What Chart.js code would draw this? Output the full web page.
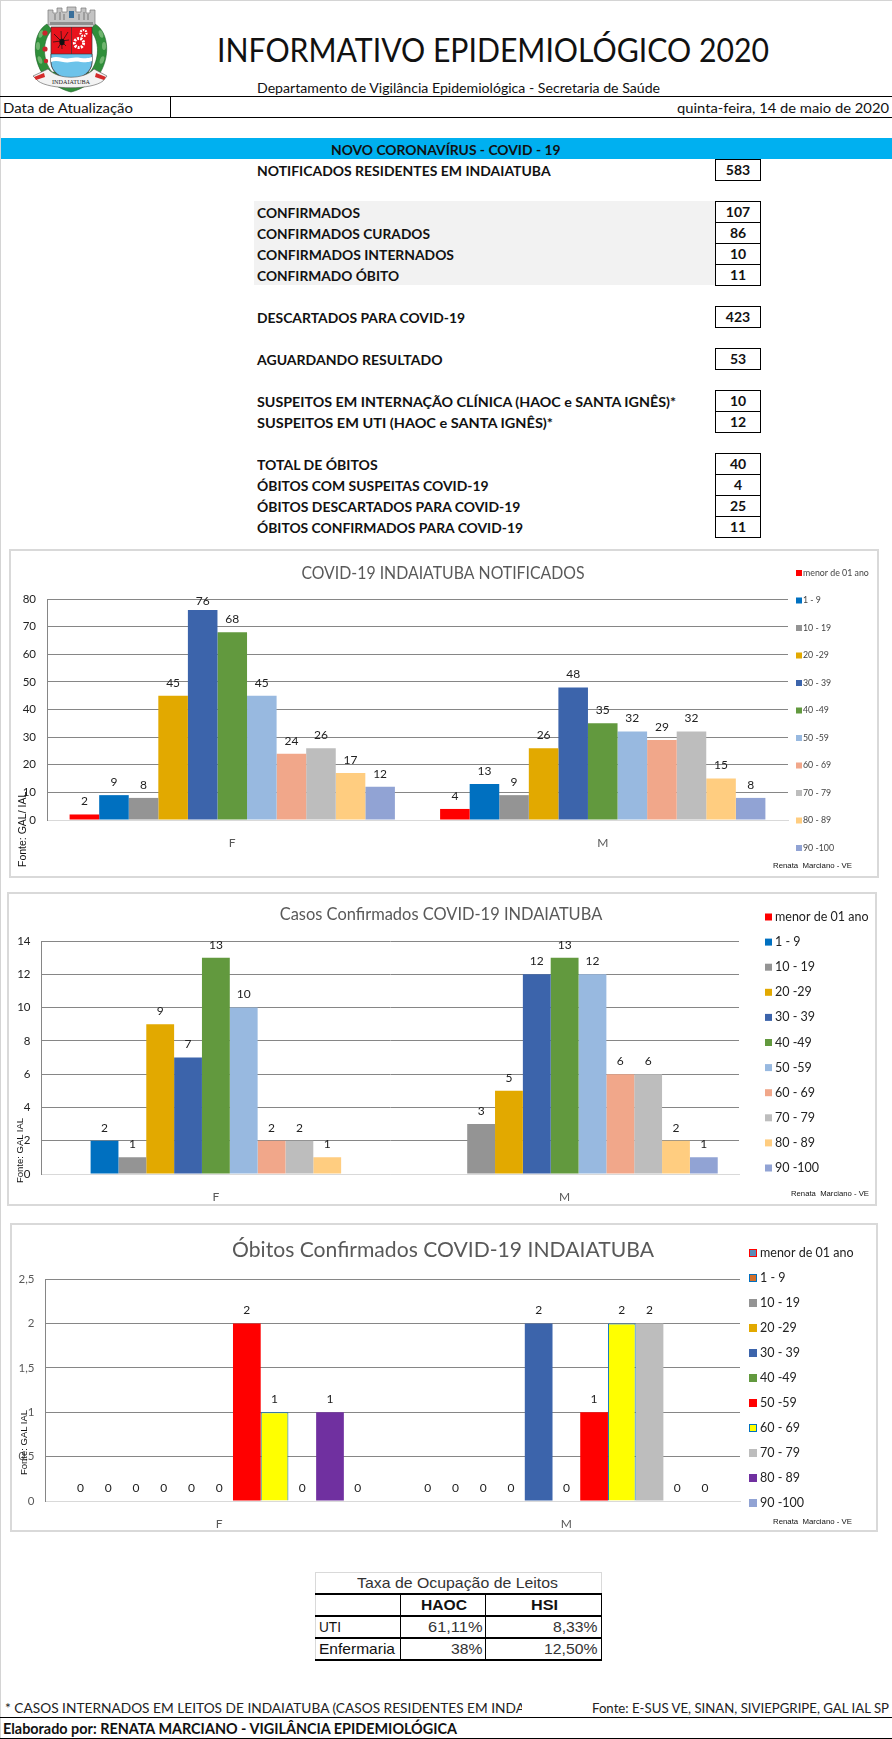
<!DOCTYPE html>
<html lang="pt-BR">
<head>
<meta charset="utf-8">
<title>Informativo Epidemiológico 2020</title>
<script src="https://cdn.jsdelivr.net/npm/chart.js@4"></script>
<style>
html, body { margin: 0; padding: 0; background: #fff; }
#pagina { position: relative; width: 892px; height: 1739px; overflow: hidden; background: #fff; font-family: Lato, "Noto Sans", sans-serif; color: #111; }
.t { position: absolute; white-space: pre; transform-origin: left center; line-height: 20px; height: 20px; }
.b { font-weight: 700; }
.caixa { position: absolute; box-sizing: border-box; }
.valor { position: absolute; left: 715px; width: 46px; height: 22px; box-sizing: border-box; border: 1px solid #000; text-align: center; font-weight: 700; font-size: 14px; line-height: 20px; }
.quadro { position: absolute; box-sizing: border-box; border: 2px solid #d9d9d9; }
.quadro canvas { position: absolute; left: -2px; top: -2px; }
.arial { font-family: "Liberation Sans", Arial, sans-serif; }
.fonte { position: absolute; white-space: nowrap; font-family: "Liberation Sans", Arial, sans-serif; color: #111; transform: rotate(-90deg); transform-origin: left top; }
</style>
</head>
<body>
<div id="pagina">
  <svg style="position:absolute;left:0;top:0" width="130" height="96" viewBox="0 0 130 96">
    <path d="M47 24 C33 32 31 58 44 76 C52 84 62 90 71 92 C80 90 90 84 98 76 C111 58 109 32 95 24 L90 30 C100 40 100 60 90 72 L52 72 C42 60 42 40 52 30 Z" fill="#2f8f3a" stroke="#1d5e27" stroke-width=".6"/>
    <g fill="#6fb56f">
      <ellipse cx="41" cy="34" rx="2" ry="4" transform="rotate(20 41 34)"/>
      <ellipse cx="38" cy="46" rx="2" ry="4"/>
      <ellipse cx="40" cy="60" rx="2" ry="4" transform="rotate(-20 40 60)"/>
      <ellipse cx="101" cy="34" rx="2" ry="4" transform="rotate(-20 101 34)"/>
      <ellipse cx="104" cy="46" rx="2" ry="4"/>
      <ellipse cx="102" cy="60" rx="2" ry="4" transform="rotate(20 102 60)"/>
    </g>
    <g fill="#c9252c"><circle cx="45" cy="33" r="2.6"/><circle cx="45" cy="49" r="2.6"/><circle cx="46" cy="61" r="2.2"/></g>
    <path d="M48 25 L48 10 L53 10 L53 13 L57 13 L57 8 L62 8 L62 12 L67 12 L67 7 L76 7 L76 12 L81 12 L81 8 L86 8 L86 13 L90 13 L90 10 L95 10 L95 25 Z" fill="#c4c4c4" stroke="#7a7a7a" stroke-width=".7"/>
    <rect x="69" y="11" width="5" height="7" fill="#3a6f9a"/>
    <path d="M55 14 V20 M60 12 V20 M64 14 V20 M79 14 V20 M84 12 V20 M88 14 V20" stroke="#777" stroke-width="1"/>
    <rect x="50" y="22" width="43" height="3" fill="#8e8e8e"/>
    <path d="M51 27 L92 27 L92 62 C92 72 82 78 71.5 80 C61 78 51 72 51 62 Z" fill="#e8121c" stroke="#333" stroke-width=".7"/>
    <line x1="71.5" y1="27" x2="71.5" y2="54" stroke="#333" stroke-width=".6"/>
    <path d="M51 54 L92 54 L92 62 C92 72 82 78 71.5 80 C61 78 51 72 51 62 Z" fill="#6cc3ea" stroke="#333" stroke-width=".6"/>
    <path d="M51 58 C58 55 64 60 71 58 C78 56 85 60 92 57 L92 61 C85 64 78 60 71 62 C64 64 58 59 51 62 Z" fill="#fff"/>
    <g stroke="#111" stroke-width=".7" fill="none"><path d="M54 34 L66 46 M68 32 L58 48 M53 42 L69 40 M61 31 L62 49"/></g>
    <ellipse cx="62" cy="42" rx="2.6" ry="3.2" fill="#111"/>
    <circle cx="79" cy="43" r="4.6" fill="none" stroke="#fff" stroke-width="3" stroke-dasharray="2 1.2"/>
    <circle cx="83.5" cy="33" r="3" fill="none" stroke="#fff" stroke-width="2.2" stroke-dasharray="1.6 1"/>
    <path d="M33 76 L48 69 C58 80 84 80 94 69 L107 76 L103 81 C92 90 50 90 38 81 Z" fill="#f3f3f3" stroke="#555" stroke-width=".6"/>
    <path d="M34 77 L44 73 L45 77 L36 80 Z M106 77 L96 73 L95 77 L104 80 Z" fill="#d42a2a"/>
    <text x="71" y="84" text-anchor="middle" font-family="Liberation Serif" font-size="7" fill="#222" textLength="38" lengthAdjust="spacingAndGlyphs">INDAIATUBA</text>
  </svg>

  <div class="caixa" style="left:0;top:0;width:892px;height:1px;background:#d4d4d4"></div>
  <div class="caixa" style="left:0;top:0;width:1px;height:1739px;background:#d4d4d4"></div>
  <div class="caixa" style="left:0;top:96px;width:892px;height:1px;background:#000"></div>
  <div class="caixa" style="left:0;top:117px;width:892px;height:1px;background:#000"></div>
  <div class="caixa" style="left:170px;top:96px;width:1px;height:21px;background:#000"></div>
  <div class="caixa" style="left:1px;top:138px;width:891px;height:21px;background:#00b0f0"></div>
  <div class="caixa" style="left:254px;top:201px;width:461px;height:84px;background:#f2f2f2"></div>

  <div class="quadro" style="left:9px;top:549px;width:870px;height:329px"><canvas id="graficoNotificados"></canvas></div>
  <div class="quadro" style="left:7px;top:892px;width:870px;height:314px"><canvas id="graficoConfirmados"></canvas></div>
  <div class="quadro" style="left:10px;top:1223px;width:868px;height:309px"><canvas id="graficoObitos"></canvas></div>

  <div class="fonte" style="left:16px;top:867px;font-size:10.5px">Fonte: GAL/ IAL</div>
  <div class="fonte" style="left:14px;top:1183px;font-size:9.5px">Fonte: GAL IAL</div>
  <div class="fonte" style="left:18px;top:1475px;font-size:9.5px">Fonte: GAL IAL</div>

  <div class="caixa" style="left:315px;top:1572px;width:287px;height:88px;border:1px solid #d9d9d9"></div>
  <div class="caixa" style="left:315px;top:1593px;width:287px;height:2px;background:#000"></div>
  <div class="caixa" style="left:315px;top:1615px;width:287px;height:2px;background:#000"></div>
  <div class="caixa" style="left:315px;top:1637px;width:287px;height:2px;background:#000"></div>
  <div class="caixa" style="left:315px;top:1659px;width:287px;height:2px;background:#000"></div>
  <div class="caixa" style="left:400px;top:1593px;width:1px;height:68px;background:#000"></div>
  <div class="caixa" style="left:485px;top:1593px;width:1px;height:68px;background:#000"></div>
  <div class="caixa" style="left:601px;top:1593px;width:1px;height:68px;background:#000"></div>

  <div class="caixa" style="left:0;top:1717px;width:892px;height:1px;background:#000"></div>
  <div class="caixa" style="left:0;top:1738px;width:892px;height:1px;background:#000"></div>
  <div id="textos"></div>
</div>

<script>
const categorias = ['F', 'M'];
const faixas = ['menor de 01 ano', '1 - 9', '10 - 19', '20 -29', '30 - 39', '40 -49', '50 -59', '60 - 69', '70 - 79', '80 - 89', '90 -100'];

const notificadosF = [2, 9, 8, 45, 76, 68, 45, 24, 26, 17, 12];
const notificadosM = [4, 13, 9, 26, 48, 35, 32, 29, 32, 15, 8];

const confirmadosF = [null, 2, 1, 9, 7, 13, 10, 2, 2, 1, null];
const confirmadosM = [null, null, 3, 5, 12, 13, 12, 6, 6, 2, 1];

const obitosF = [0, 0, 0, 0, 0, 0, 2, 1, 0, 1, 0];
const obitosM = [0, 0, 0, 0, 2, 0, 1, 2, 2, 0, 0];

const coresPadrao = ['#ff0000', '#0070c0', '#949494', '#e2a900', '#3c64ab', '#62993e', '#98b9e0', '#f1a78a', '#bdbdbd', '#ffcd80', '#91a3d4'];
const coresObitos = ['#5b8db8', '#d2702c', '#949494', '#e2a900', '#3c64ab', '#62993e', '#ff0000', '#ffff00', '#bdbdbd', '#7030a0', '#91a3d4'];
const bordasObitos = ['#ff0000', '#0070c0', null, null, null, null, null, '#0070c0', null, null, null];

const resumo = [
    ['NOTIFICADOS RESIDENTES EM INDAIATUBA', '583'],
    ['CONFIRMADOS', '107'],
    ['CONFIRMADOS CURADOS', '86'],
    ['CONFIRMADOS INTERNADOS', '10'],
    ['CONFIRMADO ÓBITO', '11'],
    ['DESCARTADOS PARA COVID-19', '423'],
    ['AGUARDANDO RESULTADO', '53'],
    ['SUSPEITOS EM INTERNAÇÃO CLÍNICA (HAOC e SANTA IGNÊS)*', '10'],
    ['SUSPEITOS EM UTI (HAOC e SANTA IGNÊS)*', '12'],
    ['TOTAL DE ÓBITOS', '40'],
    ['ÓBITOS COM SUSPEITAS COVID-19', '4'],
    ['ÓBITOS DESCARTADOS PARA COVID-19', '25'],
    ['ÓBITOS CONFIRMADOS PARA COVID-19', '11']
];
// centro vertical e largura de cada linha do resumo
const resumoY = [170.5, 212.5, 233.5, 254.5, 275.5, 317.5, 359.5, 401.5, 422.5, 464.5, 485.5, 506.5, 527.5];
const resumoLarg = [293.6, 103, 173, 197, 142, 208, 185.5, 419, 296, 120.6, 231.6, 263.4, 266];

// ===== Textos da pagina =====
const textos = document.getElementById('textos');

function texto(str, x, yc, larg, tam, opts = {}) {
    const el = document.createElement('div');
    el.className = 't' + (opts.bold ? ' b' : '') + (opts.arial ? ' arial' : '');
    el.textContent = str;
    el.style.fontSize = tam + 'px';
    el.style.left = x + 'px';
    el.style.top = (yc - 10) + 'px';
    if (opts.cor) el.style.color = opts.cor;
    (opts.pai || textos).appendChild(el);
    if (larg) el.style.transform = `scaleX(${larg / el.getBoundingClientRect().width})`;
    return el;
}

function desenharTextos() {
    texto('INFORMATIVO EPIDEMIOLÓGICO 2020', 217.4, 50, 552, 32);
    texto('Departamento de Vigilância Epidemiológica - Secretaria de Saúde', 257, 88, 403, 13.5);
    texto('Data de Atualização', 3.4, 108, 130, 14);
    texto('quinta-feira, 14 de maio de 2020', 677, 108, 212, 14);
    texto('NOVO CORONAVÍRUS - COVID - 19', 331, 150, 229.5, 14, { bold: true });

    resumo.forEach(([rotulo, valor], i) => {
        texto(rotulo, 257, resumoY[i], resumoLarg[i], 14, { bold: true });
        const cel = document.createElement('div');
        cel.className = 'valor';
        cel.textContent = valor;
        cel.style.top = (resumoY[i] - 11.5) + 'px';
        textos.appendChild(cel);
    });

    texto('Renata  Marciano - VE', 773, 866, 79, 8, { arial: true });
    texto('Renata  Marciano - VE', 791, 1194, 78, 8, { arial: true });
    texto('Renata  Marciano - VE', 773, 1522, 79, 8, { arial: true });

    texto('Taxa de Ocupação de Leitos', 357, 1583, 201, 15, { arial: true, cor: '#333' });
    texto('HAOC', 421, 1605, 46, 14.5, { arial: true, bold: true });
    texto('HSI', 531, 1605, 27, 14.5, { arial: true, bold: true });
    texto('UTI', 319, 1627, 22, 14.5, { arial: true });
    texto('61,11%', 428, 1627, 54.5, 14.5, { arial: true, cor: '#333' });
    texto('8,33%', 553, 1627, 44.5, 14.5, { arial: true, cor: '#333' });
    texto('Enfermaria', 319, 1649, 76, 14.5, { arial: true });
    texto('38%', 451, 1649, 31.5, 14.5, { arial: true, cor: '#333' });
    texto('12,50%', 544, 1649, 53.5, 14.5, { arial: true, cor: '#333' });

    const recorte = document.createElement('div');
    recorte.style.cssText = 'position:absolute;left:0;top:1698px;width:522px;height:20px;overflow:hidden';
    textos.appendChild(recorte);
    texto('* CASOS INTERNADOS EM LEITOS DE INDAIATUBA (CASOS RESIDENTES EM INDA', 4.5, 10, 520, 14, { pai: recorte, cor: '#222' });
    texto('Fonte: E-SUS VE, SINAN, SIVIEPGRIPE, GAL IAL SP', 592, 1708, 297, 14, { cor: '#222' });
    texto('Elaborado por: RENATA MARCIANO - VIGILÂNCIA EPIDEMIOLÓGICA', 3.4, 1729, 454, 14.5, { bold: true });
}

// ===== Plugins dos graficos =====
// o titulo fica centrado no quadro todo e mais estreito, como no original
const tituloEstreito = {
    id: 'tituloEstreito',
    afterLayout(chart, args, op) {
        const tb = chart.titleBlock;
        tb.left = op.centro - 400;
        tb.right = op.centro + 400;
        if (tb.desenhoOriginal) return;
        tb.desenhoOriginal = tb.draw;
        tb.draw = function () {
            const ctx = chart.ctx;
            ctx.save();
            ctx.translate(op.centro, 0);
            ctx.scale(op.escala, 1);
            ctx.translate(-op.centro, 0);
            tb.desenhoOriginal();
            ctx.restore();
        };
    }
};

const rotulosValor = {
    id: 'rotulosValor',
    afterDatasetsDraw(chart) {
        const { ctx, chartArea } = chart;
        ctx.save();
        ctx.font = '12px Lato';
        ctx.fillStyle = '#222';
        ctx.textAlign = 'center';
        ctx.textBaseline = 'middle';
        chart.data.datasets.forEach((ds, i) => {
            chart.getDatasetMeta(i).data.forEach((barra, j) => {
                if (ds.data[j] === null) return;
                ctx.fillText(ds.data[j], barra.x, Math.max(barra.y - 13, chartArea.top + 2));
            });
        });
        ctx.restore();
    }
};

const legendaLateral = {
    id: 'legendaLateral',
    afterDraw(chart, args, op) {
        const { ctx } = chart;
        ctx.save();
        ctx.font = `${op.tamanho}px Lato`;
        ctx.textBaseline = 'middle';
        chart.data.datasets.forEach((ds, i) => {
            const y = op.y + i * op.passo;
            ctx.fillStyle = ds.backgroundColor;
            ctx.fillRect(op.x, y - op.caixa / 2, op.caixa, op.caixa);
            if (ds.borderWidth) {
                ctx.strokeStyle = ds.borderColor;
                ctx.lineWidth = 1;
                ctx.strokeRect(op.x + .5, y - op.caixa / 2 + .5, op.caixa - 1, op.caixa - 1);
            }
            ctx.fillStyle = op.cor;
            ctx.fillText(ds.label, op.textoX, y);
        });
        ctx.restore();
    }
};

function criarGrafico(id, cfg) {
    const canvas = document.getElementById(id);
    canvas.width = cfg.larg;
    canvas.height = cfg.alt;
    canvas.style.width = cfg.larg + 'px';
    canvas.style.height = cfg.alt + 'px';

    const datasets = faixas.map((faixa, i) => ({
        label: faixa,
        data: [cfg.serieF[i], cfg.serieM[i]],
        backgroundColor: cfg.cores[i],
        borderColor: cfg.bordas ? (cfg.bordas[i] || cfg.cores[i]) : cfg.cores[i],
        borderWidth: cfg.bordas && cfg.bordas[i] ? 1 : 0,
        categoryPercentage: 0.878,
        barPercentage: 1
    }));

    return new Chart(canvas, {
        type: 'bar',
        data: { labels: categorias, datasets },
        plugins: [tituloEstreito, rotulosValor, legendaLateral],
        options: {
            responsive: false,
            animation: false,
            devicePixelRatio: 1,
            layout: { padding: { left: 0, right: cfg.larg - cfg.direita, top: 0, bottom: 0 } },
            plugins: {
                legend: { display: false },
                tooltip: { enabled: false },
                title: {
                    display: true,
                    text: cfg.titulo,
                    color: '#595959',
                    font: { family: 'Lato', size: cfg.tituloTam, weight: 'normal' },
                    padding: cfg.tituloPad
                },
                tituloEstreito: cfg.tituloAjuste,
                legendaLateral: cfg.legenda
            },
            scales: {
                x: {
                    afterFit: s => { s.height = cfg.alt - cfg.base; },
                    grid: { display: false },
                    border: { color: '#d9d9d9', width: 1 },
                    ticks: { color: '#595959', padding: 8, font: { family: 'Lato', size: 12 } }
                },
                y: {
                    afterFit: s => { s.width = cfg.esquerda; },
                    min: 0,
                    max: cfg.max,
                    grid: {
                        drawTicks: false,
                        lineWidth: 1,
                        color: c => c.tick.value === 0 ? '#d9d9d9' : '#868686'
                    },
                    border: { color: '#868686', width: 1 },
                    ticks: {
                        stepSize: cfg.passo,
                        padding: 11,
                        color: cfg.corEixo,
                        font: { family: 'Lato', size: 11.5 },
                        callback: v => String(v).replace('.', ',')
                    }
                }
            }
        }
    });
}

// ===== INIT =====
desenharTextos();

criarGrafico('graficoNotificados', {
    larg: 870, alt: 329, esquerda: 38, direita: 779, base: 271,
    serieF: notificadosF, serieM: notificadosM, cores: coresPadrao,
    titulo: 'COVID-19 INDAIATUBA NOTIFICADOS', tituloTam: 18, tituloPad: { top: 13, bottom: 15.4 },
    tituloAjuste: { centro: 434, escala: 0.88 },
    max: 80, passo: 10, corEixo: '#222',
    legenda: { x: 787, y: 24, passo: 27.5, caixa: 6, textoX: 794, tamanho: 8.8, cor: '#444' }
});

criarGrafico('graficoConfirmados', {
    larg: 870, alt: 314, esquerda: 34.5, direita: 732, base: 282,
    serieF: confirmadosF, serieM: confirmadosM, cores: coresPadrao,
    titulo: 'Casos Confirmados COVID-19 INDAIATUBA', tituloTam: 18, tituloPad: { top: 11, bottom: 16.4 },
    tituloAjuste: { centro: 434, escala: 0.913 },
    max: 14, passo: 2, corEixo: '#222',
    legenda: { x: 758, y: 25, passo: 25.1, caixa: 7, textoX: 768, tamanho: 12.5, cor: '#222' }
});

criarGrafico('graficoObitos', {
    larg: 868, alt: 309, esquerda: 35.5, direita: 730, base: 278,
    serieF: obitosF, serieM: obitosM, cores: coresObitos, bordas: bordasObitos,
    titulo: 'Óbitos Confirmados COVID-19 INDAIATUBA', tituloTam: 22, tituloPad: { top: 14, bottom: 15.6 },
    tituloAjuste: { centro: 433, escala: 0.96 },
    max: 2.5, passo: 0.5, corEixo: '#595959',
    legenda: { x: 739, y: 30, passo: 25, caixa: 8, textoX: 750, tamanho: 12.5, cor: '#222' }
});
</script>
</body>
</html>
